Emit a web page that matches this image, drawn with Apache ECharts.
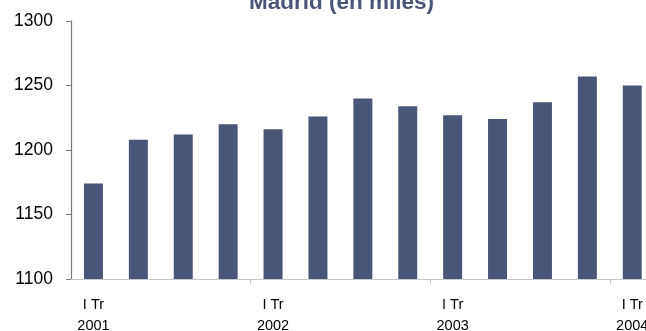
<!DOCTYPE html>
<html>
<head>
<meta charset="utf-8">
<script src="https://cdn.jsdelivr.net/npm/echarts@6/dist/echarts.min.js"></script>
<style>
  html, body { margin: 0; padding: 0; background: #ffffff; }
  #chart { width: 646px; height: 331px; }
</style>
</head>
<body>
<div id="chart"></div>
<script>
// Quarterly categories, 2001 Q1 to 2004 Q1
const categories = [
  'I Tr\n2001', 'II Tr\n2001', 'III Tr\n2001', 'IV Tr\n2001',
  'I Tr\n2002', 'II Tr\n2002', 'III Tr\n2002', 'IV Tr\n2002',
  'I Tr\n2003', 'II Tr\n2003', 'III Tr\n2003', 'IV Tr\n2003',
  'I Tr\n2004'
];
// Madrid, thousands
const values = [1174, 1208, 1212, 1220, 1216, 1226, 1240, 1234, 1227, 1224, 1237, 1257, 1250];
const yMin = 1100;
const yMax = 1300;
const yStep = 50;
const titleText = 'Madrid (en miles)';

const FONT = '"Liberation Sans", Arial, Helvetica, sans-serif';
const BAR = '#4a5677';

const chart = echarts.init(document.getElementById('chart'), null, { renderer: 'canvas' });
chart.setOption({
  animation: false,
  backgroundColor: '#ffffff',
  title: {
    text: titleText,
    left: 249,
    top: -9,
    padding: 0,
    textStyle: { fontFamily: FONT, fontSize: 22.5, fontWeight: 'bold', color: BAR }
  },
  grid: {
    left: 71, top: 21, width: 583.7, height: 258,
    containLabel: false,
    outerBoundsMode: 'none'
  },
  xAxis: {
    type: 'category',
    data: categories,
    boundaryGap: true,
    axisLine: { show: true, lineStyle: { color: '#c8c8c8', width: 1 } },
    axisTick: {
      show: true,
      length: 5,
      interval: function (i) { return i > 0 && i % 4 === 0; },
      lineStyle: { color: '#c8c8c8' }
    },
    axisLabel: {
      interval: 3,
      margin: 15,
      fontFamily: FONT,
      fontSize: 14.5,
      lineHeight: 21,
      color: '#000000'
    },
    splitLine: { show: false }
  },
  yAxis: {
    type: 'value',
    min: yMin,
    max: yMax,
    interval: yStep,
    axisLine: { show: true, lineStyle: { color: '#7a7a7a', width: 1.2 } },
    axisTick: { show: true, length: 5, lineStyle: { color: '#7a7a7a' } },
    axisLabel: {
      margin: 18,
      fontFamily: FONT,
      fontSize: 17.5,
      color: '#000000',
      formatter: function (v) { return String(v); }
    },
    splitLine: { show: false }
  },
  series: [{
    type: 'bar',
    data: values,
    barWidth: 19,
    itemStyle: { color: BAR }
  }]
});
</script>
</body>
</html>
